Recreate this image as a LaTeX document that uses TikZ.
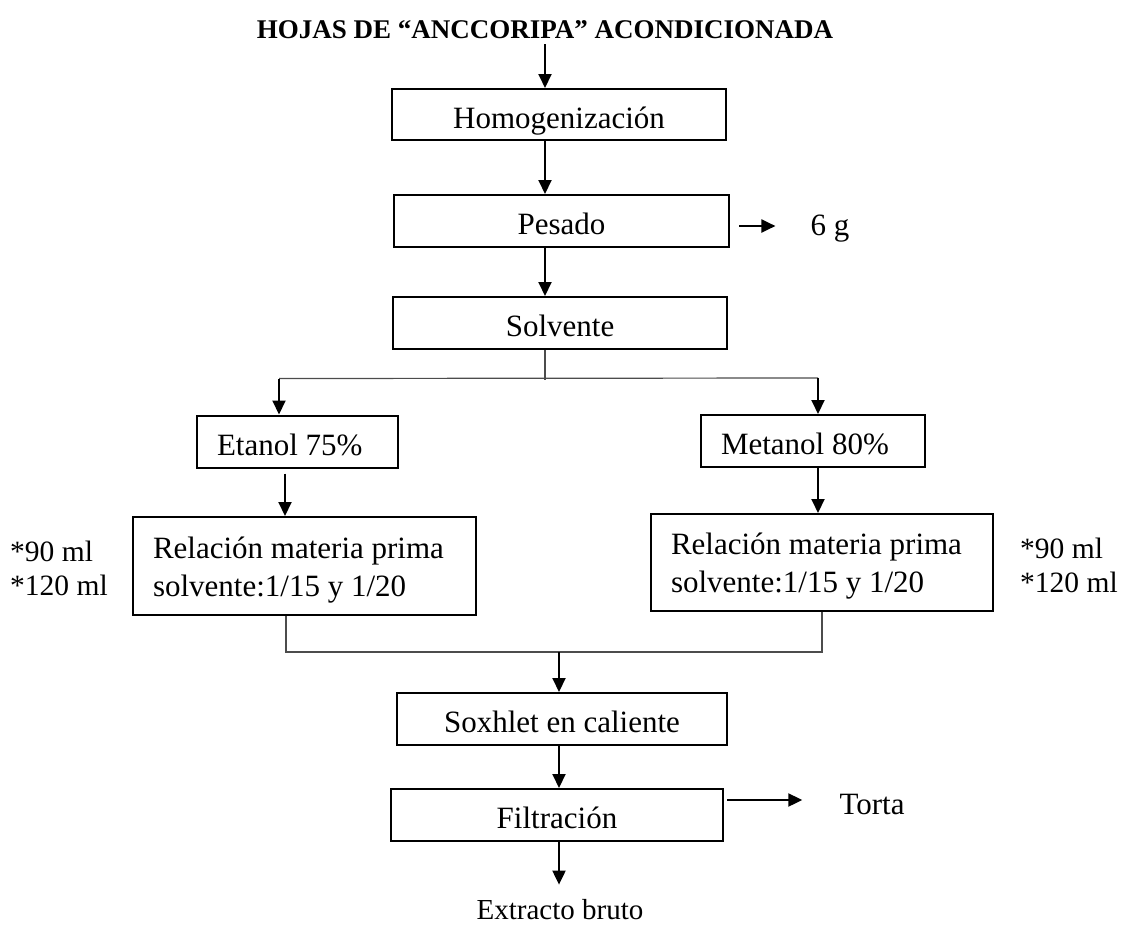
\documentclass[tikz,border=0pt]{standalone}
\usepackage{fontspec}
\setmainfont{Liberation Serif}
\usetikzlibrary{arrows.meta,calc}
\begin{document}
\begin{tikzpicture}[x=1pt,y=-1pt,
  box/.style={draw, line width=2pt, inner sep=0pt, font=\fontsize{31}{38}\selectfont},
  sbox/.style={box, text height=27pt, text depth=0pt},
  lbox/.style={box, align=flush left, inner xsep=20pt},
  lbl/.style={inner sep=0pt, font=\fontsize{31}{36}\selectfont},
  side/.style={inner sep=0pt, align=left, anchor=west, font=\fontsize{29.5}{34}\selectfont},
  arr/.style={line width=2pt, -{Triangle[length=14pt,width=13pt]}},
  thinl/.style={line width=1.2pt, draw=black!70}]
\useasboundingbox (0,0) rectangle (1126,926);

% process steps
\node[lbl, font=\bfseries\fontsize{27}{32}\selectfont] (title) at (545,30) {HOJAS DE “ANCCORIPA” ACONDICIONADA};
\node[sbox, minimum width=334pt, minimum height=51pt] (hom) at (559,114.5) {Homogenización};
\node[sbox, minimum width=335pt, minimum height=52pt] (pes) at (561.5,221) {Pesado};
\node[lbl] (g6) at (830,228.5) {6 g};
\node[sbox, minimum width=334pt, minimum height=52pt] (sol) at (560,323) {Solvente};
\node[sbox, lbox, text width=161pt, minimum height=52pt] (eta) at (297.5,441.5) {Etanol 75\%};
\node[sbox, lbox, text width=184pt, minimum height=52pt] (met) at (813,441) {Metanol 80\%};
\node[lbox, text width=303pt, minimum height=98pt] (rell) at (304.5,566) {\rule{0pt}{29pt}Relación materia prima\\solvente:1/15 y 1/20};
\node[lbox, text width=302pt, minimum height=97pt] (relr) at (822,562.5) {\rule{0pt}{29pt}Relación materia prima\\solvente:1/15 y 1/20};
\node[side] (vl) at (10,568) {*90 ml\\*120 ml};
\node[side] (vr) at (1020,565) {*90 ml\\*120 ml};
\node[sbox, minimum width=330pt, minimum height=52pt] (sox) at (562,719) {Soxhlet en caliente};
\node[sbox, minimum width=332pt, minimum height=52pt] (fil) at (557,815) {Filtración};
\node[lbl] (tor) at (872,804) {Torta};
\node[lbl, font=\fontsize{29}{34}\selectfont] (ext) at (560,910) {Extracto bruto};

% main line
\coordinate (a0) at ([yshift=-5pt]title.south);
\draw[arr] (a0) -- (a0 |- hom.north);
\draw[arr] (hom.south -| a0) -- (pes.north -| a0);
\draw[arr] ($(pes.east)+(9,5)$) -- ($(g6.west)+(-35,-2.5)$);
\draw[arr] (pes.south -| a0) -- (sol.north -| a0);

% split into the two solvents
\coordinate (sp) at (sol.south -| a0);
\draw[thinl] (sp) -- ++(0,30);
\coordinate (eL) at ([xshift=-18.5pt]eta.north);
\coordinate (mR) at ([xshift=5pt]met.north);
\draw[thinl] ([yshift=36pt]eL) -- ([yshift=36pt]mR);
\draw[arr] ([yshift=36pt]eL) -- (eL);
\draw[arr] ([yshift=36pt]mR) -- (mR);

\coordinate (e1) at ([xshift=-12.5pt,yshift=-5pt]eta.south);
\draw[arr] (e1) -- (e1 |- rell.north);
\coordinate (m1) at ([xshift=5pt]met.south);
\draw[arr] (m1) -- (m1 |- relr.north);

% merge and extraction
\coordinate (ml) at ([xshift=-18.5pt]rell.south);
\coordinate (mj) at (559,652);
\draw[thinl] (ml) |- (mj) -| (relr.south);
\draw[arr] (mj) -- (mj |- sox.north);
\draw[arr] (sox.south -| mj) -- (fil.north -| mj);
\draw[arr] ($(fil.east)+(3,-15)$) -- ($(tor.west)+(-37,-4)$);
\draw[arr] (fil.south -| mj) -- ([yshift=15pt]ext.north -| mj);
\end{tikzpicture}
\end{document}
